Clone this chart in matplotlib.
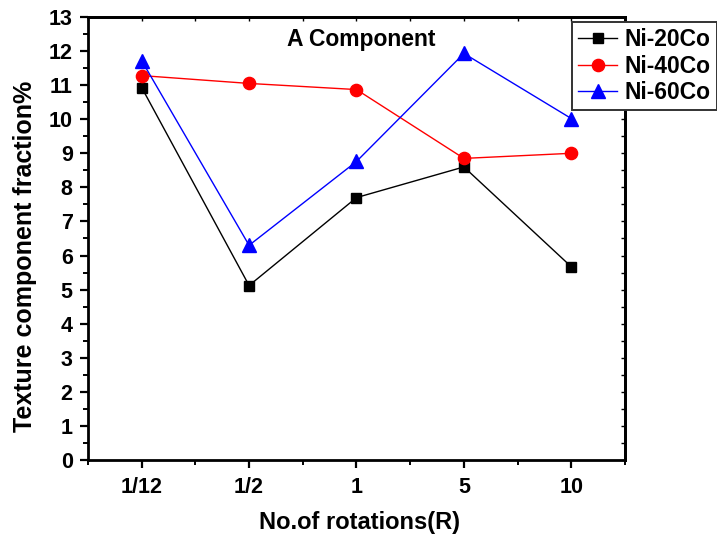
import matplotlib
matplotlib.use("Agg")
import matplotlib.pyplot as plt
from matplotlib.ticker import MultipleLocator, FixedLocator

plt.rcParams['font.family'] = ['Liberation Sans', 'DejaVu Sans']
plt.rcParams['font.weight'] = 'bold'

rotations = ["1/12", "1/2", "1", "5", "10"]
ni20co = [10.93, 5.12, 7.70, 8.60, 5.67]
ni40co = [11.28, 11.05, 10.87, 8.85, 9.00]
ni60co = [11.72, 6.30, 8.76, 11.93, 10.02]

fig = plt.figure(figsize=(7.17, 5.46), dpi=100)
ax = fig.add_axes([0.1227, 0.1575, 0.749, 0.8114])

x = list(range(1, len(rotations) + 1))
ax.plot(x, ni20co, color='black', lw=1.0, marker='s', ms=7.2, label='Ni-20Co')
ax.plot(x, ni40co, color='red', lw=1.0, marker='o', ms=8.8, label='Ni-40Co')
ax.plot(x, ni60co, color='blue', lw=1.0, marker='^', ms=9.6, label='Ni-60Co')

minor_x = [0.5, 1.5, 2.5, 3.5, 4.5, 5.5]
ax.set_xlim(0.5, 5.5)
ax.set_ylim(0, 13)
ax.xaxis.set_major_locator(FixedLocator(x))
ax.xaxis.set_minor_locator(FixedLocator(minor_x))
ax.set_xticklabels(rotations)
ax.yaxis.set_major_locator(MultipleLocator(1))
ax.yaxis.set_minor_locator(MultipleLocator(0.5))

for s in ax.spines.values():
    s.set_linewidth(2.0)

ax.tick_params(axis='both', which='major', direction='out', length=6, width=1.6,
               labelsize=15.5, top=False, right=False)
ax.tick_params(axis='both', which='minor', direction='out', length=3.5, width=1.4,
               top=False, right=False)
ax.tick_params(axis='x', which='major', pad=6)
ax.tick_params(axis='y', which='major', pad=5)
for lbl in ax.get_xticklabels() + ax.get_yticklabels():
    lbl.set_fontweight('bold')

# small inward ticks on the opposite spines
sec_x = ax.secondary_xaxis('top')
sec_x.xaxis.set_major_locator(FixedLocator(x))
sec_x.xaxis.set_minor_locator(FixedLocator(minor_x))
sec_x.tick_params(which='both', direction='in', length=3, width=1.0, labeltop=False)
sec_x.spines['top'].set_linewidth(2.0)
sec_y = ax.secondary_yaxis('right')
sec_y.yaxis.set_major_locator(MultipleLocator(1))
sec_y.yaxis.set_minor_locator(MultipleLocator(0.5))
sec_y.tick_params(which='both', direction='in', length=3, width=1.0, labelright=False)
sec_y.spines['right'].set_linewidth(2.0)

ax.set_xlabel('No.of rotations(R)', fontsize=17, fontweight='bold')
ax.xaxis.label.set_va('center')
ax.xaxis.set_label_coords(0.506, -0.14)
ax.set_ylabel('Texture component fraction%', fontsize=18, fontweight='bold')
ax.yaxis.label.set_va('center')
ax.yaxis.set_label_coords(-0.118, 0.46)

ax.text(0.508, 0.949, 'A Component', transform=ax.transAxes, fontsize=16.5,
        fontweight='bold', ha='center', va='center')

leg = fig.legend(loc='upper right', bbox_to_anchor=(0.9995, 0.9597),
                 prop={'weight': 'bold', 'size': 16.5},
                 frameon=True, fancybox=False, handlelength=1.7,
                 borderpad=0.28, labelspacing=0.14, handletextpad=0.3,
                 borderaxespad=0.0, framealpha=1.0)
leg.get_frame().set_edgecolor('#333333')
leg.get_frame().set_linewidth(1.4)

fig.savefig('out.png', dpi=100)
